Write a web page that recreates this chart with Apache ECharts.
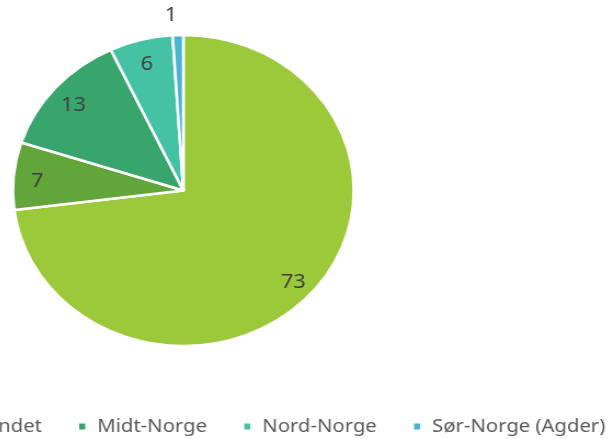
<!DOCTYPE html>
<html>
<head>
<meta charset="utf-8">
<script src="https://cdn.jsdelivr.net/npm/echarts@6/dist/echarts.min.js"></script>
<style>
  html, body { margin: 0; padding: 0; width: 612px; height: 439px; overflow: hidden; background: #fff; }
  /* the reference is a bit stretched sideways, and its legend runs off the left edge */
  #main { position: absolute; left: -300px; top: 0; width: 832px; height: 439px;
          transform: scaleX(1.096); transform-origin: 0 0; }
</style>
</head>
<body>
<div id="main"></div>
<script>
const regions = ['Østlandet', 'Vestlandet', 'Midt-Norge', 'Nord-Norge', 'Sør-Norge (Agder)'];
const values = [73, 7, 13, 6, 1];
const colors = ['#9BC93A', '#62A63A', '#38A66C', '#44C2A3', '#4BB4D3'];

const myChart = echarts.init(document.getElementById('main'));

const sliceData = regions.map((name, i) => ({ name, value: values[i] }));
// labels sit near the rim, so they go on a see-through ring on top
const labelData = regions.map((name, i) => {
  const item = { name, value: values[i] };
  if (values[i] < 3) {
    item.label = { position: 'outside', distanceToLabelLine: 0, offset: [0, 0] };
    item.labelLine = { show: false, length: 20, length2: 0 };
  }
  return item;
});

const font = '"Noto Sans", sans-serif';
const center = [441, 190.5];

myChart.setOption({
  animation: false,
  color: colors,
  legend: {
    data: regions,
    right: 1,
    top: 412,
    icon: 'rect',
    itemWidth: 7.5,
    itemHeight: 8,
    itemGap: 32,
    textStyle: { color: '#595959', fontSize: 18.5, fontFamily: font, padding: [0, 0, 0, 5] }
  },
  series: [
    {
      type: 'pie',
      center: center,
      radius: [0, 155.5],
      startAngle: 90,
      clockwise: true,
      silent: true,
      label: { show: false },
      labelLine: { show: false },
      itemStyle: { borderColor: '#fff', borderWidth: 2.5 },
      data: sliceData
    },
    {
      type: 'pie',
      center: center,
      radius: [106, 155.5],
      startAngle: 90,
      clockwise: true,
      silent: true,
      avoidLabelOverlap: false,
      itemStyle: { color: 'rgba(0,0,0,0)', borderWidth: 0 },
      label: { show: true, position: 'inside', formatter: '{c}', offset: [0, 3],
               color: '#404040', fontSize: 20, fontFamily: font },
      labelLine: { show: false },
      data: labelData
    }
  ]
});
</script>
</body>
</html>
